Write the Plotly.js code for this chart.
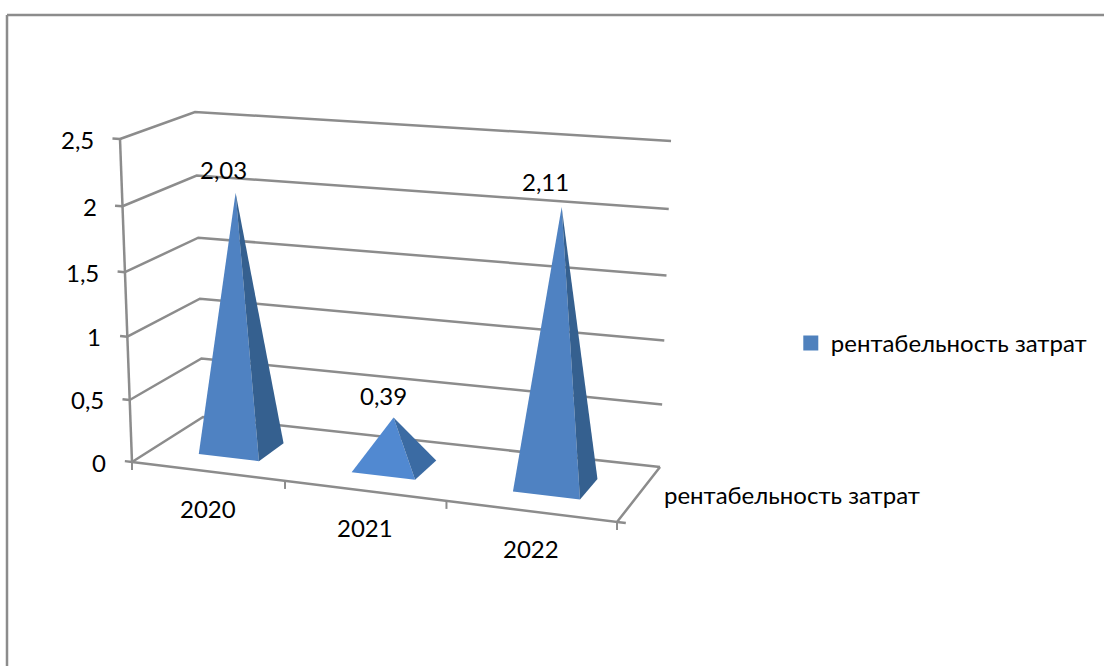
<!DOCTYPE html>
<html lang="ru">
<head>
<meta charset="utf-8">
<script src="https://cdn.plot.ly/plotly-3.0.1.min.js"></script>
<style>html,body{margin:0;padding:0;background:#fff}#chart{width:1104px;height:666px}</style>
</head>
<body>
<div id="chart"></div>
<script>
// Series
const categories = ['2020', '2021', '2022'];
const values = [2.03, 0.39, 2.11];
const seriesName = 'рентабельность затрат';
const valueTicks = [0, 0.5, 1, 1.5, 2, 2.5];

const comma = s => String(s).replace('.', ',');
const FONT = 'Lato, Carlito, "Open Sans", sans-serif';
const TEXT_SIZE = 24;
const GRID = '#8c8c8c';
const GRID_WIDTH = 2.5;

// Pixel positions of the 3D box: [front, back] x [left, right], bottom and top of the value range
const box = {
  bottom: { fl: [132, 462], fr: [617, 522], bl: [203, 417], br: [660, 467] },
  top:    { fl: [120, 139], fr: [631, 177], bl: [195, 112], br: [671, 141] }
};
const lerp = (a, b, t) => [a[0] + (b[0] - a[0]) * t, a[1] + (b[1] - a[1]) * t];

// Mild perspective foreshortening along the category and value directions
const warpU = u => 0.3073 * u / (1 - 0.02605 * u);
const warpV = v => 0.3802 * v / (1 - 0.0198 * v);

// (category position, value, depth 0..1) to plot coordinates
function project(u, v, d) {
  const fu = warpU(u), fv = warpV(v);
  const plane = k => lerp(lerp(box[k].fl, box[k].bl, d), lerp(box[k].fr, box[k].br, d), fu);
  return lerp(plane('bottom'), plane('top'), fv);
}

function polyline(points, color, width) {
  const p = points.map(q => project(q[0], q[1], q[2]));
  return { type: 'scatter', mode: 'lines', x: p.map(q => q[0]), y: p.map(q => q[1]),
    line: { color: color, width: width, simplify: false }, hoverinfo: 'skip', showlegend: false };
}
function face(points, color) {
  const p = points.map(q => project(q[0], q[1], q[2]));
  p.push(p[0]);
  return { type: 'scatter', mode: 'lines', x: p.map(q => q[0]), y: p.map(q => q[1]),
    fill: 'toself', fillcolor: color, line: { width: 0, color: color }, hoverinfo: 'skip', showlegend: false };
}

const traces = [];
const N = categories.length;

// Walls: one line on the side wall and one on the back wall for each value tick
valueTicks.forEach(v => {
  traces.push(polyline([[0, v, 0], [0, v, 1], [N, v, 1]], GRID, GRID_WIDTH));
  traces.push(polyline([[0, v, 0], [-0.048, v, 0]], GRID, GRID_WIDTH));
});
// Value axis and the floor outline
traces.push(polyline([[0, 0, 0], [0, valueTicks[valueTicks.length - 1], 0]], GRID, GRID_WIDTH));
traces.push(polyline([[0, 0, 0], [N, 0, 0], [N, 0, 1]], GRID, GRID_WIDTH));
traces.push(polyline([[N, 0, 0], [N + 0.05, 0, 0]], GRID, GRID_WIDTH));

// Category tick marks hang under the front edge
for (let i = 0; i <= N; i++) {
  const a = project(i, 0, 0);
  traces.push({ type: 'scatter', mode: 'lines', x: [a[0], a[0]], y: [a[1], a[1] + 8],
    line: { color: GRID, width: 2 }, hoverinfo: 'skip', showlegend: false });
}

// Pyramids: a front face and a right face rising from the floor to the value
const HALF_U = 0.2, D_FRONT = 0.3, D_BACK = 0.68, D_MID = 0.5;
const CENTER_SHIFT = 0.008;
const faceColors = [
  { front: '#4f82c2', side: '#35608f' },
  { front: '#5189d1', side: '#3b6ba3' },
  { front: '#4f82c2', side: '#35608f' }
];
values.forEach((val, i) => {
  const c = i + 0.5;
  const b = c + CENTER_SHIFT;
  const apex = [c, val, D_MID];
  traces.push(face([[b - HALF_U, 0, D_FRONT], [b + HALF_U, 0, D_FRONT], apex], faceColors[i].front));
  traces.push(face([[b + HALF_U, 0, D_FRONT], [b + HALF_U, 0, D_BACK], apex], faceColors[i].side));
});

// Legend entry
traces.push({ type: 'scatter', mode: 'markers', x: [null], y: [null], name: seriesName,
  marker: { symbol: 'square', size: 15, color: '#4f81bd' }, showlegend: true, hoverinfo: 'skip' });

const annotations = [];
const addText = (pt, text, anchor, dx, dy) => annotations.push({
  x: pt[0], y: pt[1], xref: 'x', yref: 'y', text: text, showarrow: false,
  xanchor: anchor, yanchor: 'middle', xshift: dx, yshift: -dy,
  font: { family: FONT, size: TEXT_SIZE, color: '#000' }
});
valueTicks.forEach(v => addText(project(0, v, 0), comma(v), 'right', -24, 0));
categories.forEach((c, i) => addText(project(i + 0.5, 0, 0), c, 'center', 0, 37));
addText(project(N, 0, 0.5), seriesName, 'left', 23, 0);
const labelShift = [[-12, -23], [-10, -22], [-16, -26]];
values.forEach((val, i) => addText(project(i + 0.5, val, D_MID), comma(val.toFixed(2)), 'center', labelShift[i][0], labelShift[i][1]));

// Outer chart border, open on the right and bottom sides
const border = (x0, y0, x1, y1) => ({ type: 'line', xref: 'x', yref: 'y', x0, y0, x1, y1,
  line: { color: GRID, width: GRID_WIDTH }, layer: 'below' });

const layout = {
  width: 1104, height: 666,
  margin: { l: 0, r: 0, t: 0, b: 0 },
  paper_bgcolor: '#fff', plot_bgcolor: '#fff',
  xaxis: { range: [0, 1104], visible: false, fixedrange: true },
  yaxis: { range: [666, 0], visible: false, fixedrange: true },
  shapes: [border(7, 15, 1104, 15), border(7, 15, 7, 666)],
  annotations: annotations,
  showlegend: true,
  legend: { x: 0.7163, y: 0.4845, xref: 'paper', yref: 'paper', xanchor: 'left', yanchor: 'middle',
    bgcolor: 'rgba(0,0,0,0)', font: { family: FONT, size: TEXT_SIZE, color: '#000' } },
  hovermode: false
};
Plotly.newPlot('chart', traces, layout, { displayModeBar: false, staticPlot: true });
</script>
</body>
</html>
